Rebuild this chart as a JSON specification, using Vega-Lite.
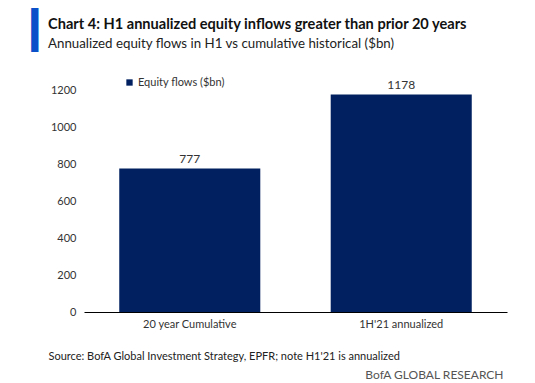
{
  "$schema": "https://vega.github.io/schema/vega-lite/v6.json",
  "width": 423,
  "height": 240,
  "autosize": {"type": "none"},
  "padding": {"left": 84, "top": 72, "right": 28, "bottom": 71},
  "background": "white",
  "config": {
    "view": {"stroke": null},
    "font": "Lato, sans-serif"
  },
  "title": {
    "text": "Chart 4: H1 annualized equity inflows greater than prior 20 years",
    "subtitle": "Annualized equity flows in H1 vs cumulative historical ($bn)",
    "anchor": "start",
    "frame": "group",
    "dx": -36,
    "offset": -38,
    "font": "Lato",
    "fontSize": 14.6,
    "fontWeight": "bold",
    "color": "#111111",
    "subtitleFont": "Lato",
    "subtitleFontSize": 13.3,
    "subtitleColor": "#222222",
    "subtitlePadding": 5
  },
  "data": {
    "values": [
      {"category": "20 year Cumulative", "value": 777},
      {"category": "1H'21 annualized", "value": 1178}
    ]
  },
  "encoding": {
    "y": {
      "field": "value",
      "type": "quantitative",
      "scale": {"domain": [0, 1300]},
      "axis": {
        "values": [0, 200, 400, 600, 800, 1000, 1200],
        "format": "d",
        "grid": false,
        "domain": false,
        "ticks": false,
        "labelPadding": 8,
        "labelColor": "#333333",
        "labelFontSize": 11,
        "title": "▎",
        "titleAngle": 0,
        "titleX": -53,
        "titleY": -59,
        "titleAlign": "left",
        "titleBaseline": "top",
        "titleFontSize": 37,
        "titleFont": "DejaVu Sans",
        "titleFontWeight": "normal",
        "titleColor": "#0a50c8"
      }
    }
  },
  "layer": [
    {
      "mark": {"type": "bar"},
      "encoding": {
        "x": {
          "field": "category",
          "type": "nominal",
          "sort": null,
          "scale": {"paddingInner": 0.333, "paddingOuter": 0.1667},
          "axis": {
            "orient": "bottom",
            "labelAngle": 0,
            "ticks": false,
            "domainColor": "#000000",
            "labelColor": "#333333",
            "labelFontSize": 11,
            "labelPadding": 6,
            "title": "Source:  BofA Global Investment Strategy, EPFR; note H1'21  is annualized",
            "titleX": -36,
            "titleY": 44,
            "titleAlign": "left",
            "titleBaseline": "middle",
            "titleFontWeight": "normal",
            "titleFontSize": 11,
            "titleColor": "#222222"
          }
        },
        "color": {
          "datum": "Equity flows ($bn)",
          "scale": {"range": ["#00205f"]},
          "legend": {
            "orient": "none",
            "legendX": 40,
            "legendY": 5,
            "title": null,
            "symbolType": "square",
            "symbolSize": 40,
            "symbolStrokeWidth": 0,
            "labelFontSize": 11,
            "labelColor": "#333333",
            "labelOffset": 3
          }
        }
      }
    },
    {
      "mark": {"type": "text", "dy": -10, "fontSize": 12, "color": "#333333"},
      "encoding": {
        "x": {
          "field": "category",
          "type": "nominal",
          "sort": null,
          "axis": {
            "orient": "top",
            "zindex": 2,
            "labels": false,
            "ticks": false,
            "domain": false,
            "grid": false,
            "title": "BofA GLOBAL RESEARCH",
            "titleX": 419,
            "titleY": 302,
            "titleAlign": "right",
            "titleBaseline": "middle",
            "titleFontWeight": "normal",
            "titleFontSize": 12,
            "titleColor": "#555555"
          }
        },
        "text": {"field": "value"}
      }
    }
  ],
  "resolve": {"axis": {"x": "independent"}}
}
